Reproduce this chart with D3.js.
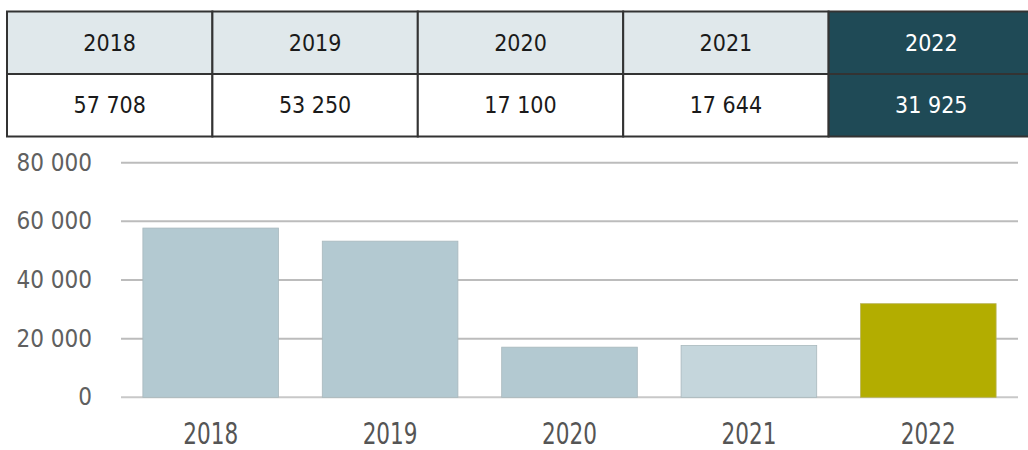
<!DOCTYPE html>
<html>
<head>
<meta charset="utf-8">
<script src="https://cdn.jsdelivr.net/npm/d3@7.9.0/dist/d3.min.js"></script>
<style>
  body { margin: 0; background: #fff; }
  svg { display: block; }
  text { font-family: "DejaVu Sans", sans-serif; font-stretch: condensed; }
</style>
</head>
<body>
<svg id="chart" width="1028" height="450"></svg>
<script>
const years = ['2018', '2019', '2020', '2021', '2022'];
const values = [57708, 53250, 17100, 17644, 31925];
const yTicks = [0, 20000, 40000, 60000, 80000];

const locale = d3.formatLocale({ decimal: ',', thousands: ' ', grouping: [3], currency: ['', ''] });
const fmt = locale.format(',d');

const svg = d3.select('#chart');

// table on top
const tx = d3.scaleBand().domain(years).range([7, 1034]);
const rowTop = 11.5, rowMid = 74, rowBot = 136.5;

const cols = svg.append('g').selectAll('g')
  .data(years)
  .enter()
  .append('g');

cols.append('rect')
  .attr('x', d => tx(d))
  .attr('y', rowTop)
  .attr('width', tx.bandwidth())
  .attr('height', rowMid - rowTop)
  .attr('fill', d => d === '2022' ? '#1f4a56' : '#e0e8eb')
  .attr('stroke', '#333')
  .attr('stroke-width', 2);

cols.append('rect')
  .attr('x', d => tx(d))
  .attr('y', rowMid)
  .attr('width', tx.bandwidth())
  .attr('height', rowBot - rowMid)
  .attr('fill', d => d === '2022' ? '#1f4a56' : '#fff')
  .attr('stroke', '#333')
  .attr('stroke-width', 2);

cols.append('text')
  .attr('x', d => tx(d) + tx.bandwidth() / 2)
  .attr('y', (rowTop + rowMid) / 2)
  .attr('text-anchor', 'middle')
  .attr('dominant-baseline', 'central')
  .attr('font-size', 23)
  .attr('fill', d => d === '2022' ? '#fff' : '#1a1a1a')
  .text(d => d);

cols.append('text')
  .attr('x', d => tx(d) + tx.bandwidth() / 2)
  .attr('y', (rowMid + rowBot) / 2)
  .attr('text-anchor', 'middle')
  .attr('dominant-baseline', 'central')
  .attr('font-size', 23)
  .attr('fill', d => d === '2022' ? '#fff' : '#1a1a1a')
  .text((d, i) => fmt(values[i]));

// bar chart
const x = d3.scaleBand()
  .domain(years)
  .range([121, 1018])
  .paddingInner(0.244)
  .paddingOuter(0.122);

const y = d3.scaleLinear()
  .domain([0, 80000])
  .range([397.3, 162.7]);

// gridlines
svg.append('g')
  .selectAll('line')
  .data(yTicks)
  .enter()
  .append('line')
  .attr('x1', 121)
  .attr('x2', 1018)
  .attr('y1', d => y(d))
  .attr('y2', d => y(d))
  .attr('stroke', d => d === 0 ? '#c8c8c8' : '#bcbcbc')
  .attr('stroke-width', 2);

const barColors = ['#b3c9d1', '#b3c9d1', '#b3c9d1', '#c5d6dc', '#b3ad00'];

svg.append('g')
  .selectAll('rect')
  .data(values)
  .enter()
  .append('rect')
  .attr('x', (d, i) => x(years[i]))
  .attr('y', d => y(d))
  .attr('width', x.bandwidth())
  .attr('height', d => y(0) - y(d))
  .attr('fill', (d, i) => barColors[i])
  .attr('stroke', (d, i) => i === 4 ? '#b8b35a' : '#a9b8bd')
  .attr('stroke-width', 0.8);

// y axis labels
svg.append('g')
  .selectAll('text')
  .data(yTicks)
  .enter()
  .append('text')
  .attr('x', 92)
  .attr('y', d => y(d))
  .attr('text-anchor', 'end')
  .attr('dominant-baseline', 'central')
  .attr('font-size', 24)
  .attr('fill', '#606060')
  .text(d => fmt(d));

// x axis labels, squeezed horizontally like the original
svg.append('g')
  .selectAll('text')
  .data(years)
  .enter()
  .append('text')
  .attr('transform', d => `translate(${x(d) + x.bandwidth() / 2},444) scale(0.8,1)`)
  .attr('text-anchor', 'middle')
  .attr('font-size', 30)
  .attr('fill', '#555')
  .text(d => d);
</script>
</body>
</html>
